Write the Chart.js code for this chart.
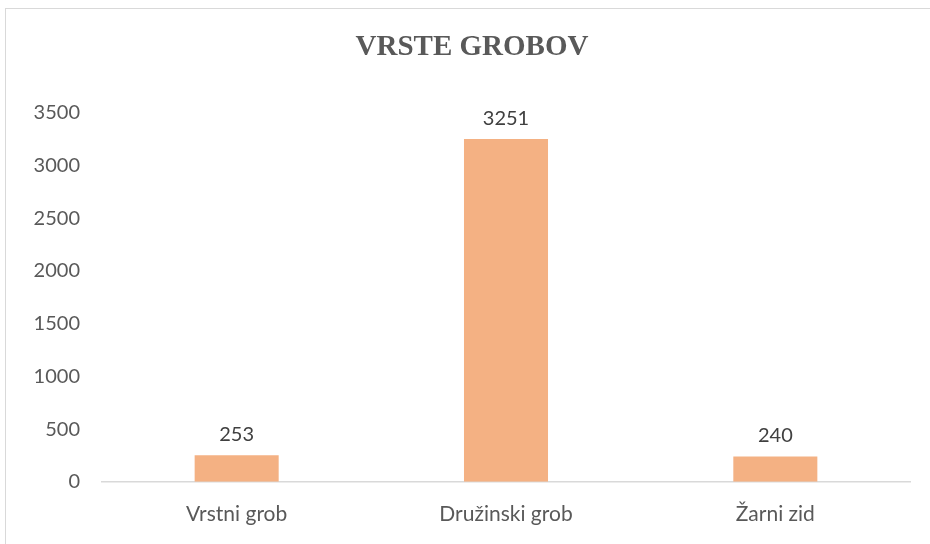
<!DOCTYPE html>
<html>
<head>
<meta charset="utf-8">
<script src="https://cdn.jsdelivr.net/npm/chart.js@4"></script>
<style>
  html, body { margin: 0; padding: 0; background: #fff; }
  #frame {
    position: absolute; left: 5px; top: 8px; width: 940px; height: 560px;
    border: 1px solid #d9d9d9; box-sizing: border-box;
  }
  #wrap { position: absolute; left: 0; top: 0; width: 930px; height: 544px; }
</style>
</head>
<body>
<div id="frame"></div>
<div id="wrap"><canvas id="chart"></canvas></div>
<script>
const categories = ['Vrstni grob', 'Družinski grob', 'Žarni zid'];
const counts = [253, 3251, 240];
const yTicks = [0, 500, 1000, 1500, 2000, 2500, 3000, 3500];

const barColor = '#F4B183';
const textColor = '#595959';

// value labels above each bar
const valueLabels = {
    id: 'valueLabels',
    afterDatasetsDraw(chart) {
        const ctx = chart.ctx;
        const meta = chart.getDatasetMeta(0);
        ctx.save();
        ctx.font = '20px Lato';
        ctx.fillStyle = '#404040';
        ctx.textAlign = 'center';
        ctx.textBaseline = 'middle';
        meta.data.forEach((bar, i) => {
            ctx.fillText(String(counts[i]), bar.x, bar.y - 21);
        });
        ctx.restore();
    }
};

const ctx = document.getElementById('chart').getContext('2d');
const chart = new Chart(ctx, {
    type: 'bar',
    data: {
        labels: categories,
        datasets: [{
            label: 'Vrste grobov',
            data: counts,
            backgroundColor: barColor,
            borderWidth: 0,
            barPercentage: 0.52,
            categoryPercentage: 0.6
        }]
    },
    options: {
        responsive: true,
        maintainAspectRatio: false,
        animation: false,
        layout: {
            padding: { left: 34, right: 20, top: 10, bottom: 5 }
        },
        scales: {
            x: {
                grid: { display: false },
                border: { display: true, color: '#d9d9d9', width: 1.5 },
                ticks: {
                    color: textColor,
                    font: { family: 'Lato', size: 21 },
                    padding: 12
                }
            },
            y: {
                min: 0,
                max: 3500,
                grid: { display: false, drawTicks: false },
                border: { display: false },
                afterBuildTicks: function(scale) {
                    scale.ticks = yTicks.map(v => ({ value: v }));
                },
                afterFit: function(scale) {
                    scale.width = 68;
                },
                ticks: {
                    color: textColor,
                    font: { family: 'Lato', size: 20 },
                    padding: 22,
                    callback: function(value) {
                        return String(value);
                    }
                }
            }
        },
        plugins: {
            legend: { display: false },
            tooltip: { enabled: false },
            title: {
                display: true,
                text: 'VRSTE GROBOV',
                color: textColor,
                font: { family: 'Liberation Serif', size: 29, weight: 'bold' },
                padding: { top: 20, bottom: 48 }
            }
        }
    },
    plugins: [valueLabels]
});
</script>
</body>
</html>
